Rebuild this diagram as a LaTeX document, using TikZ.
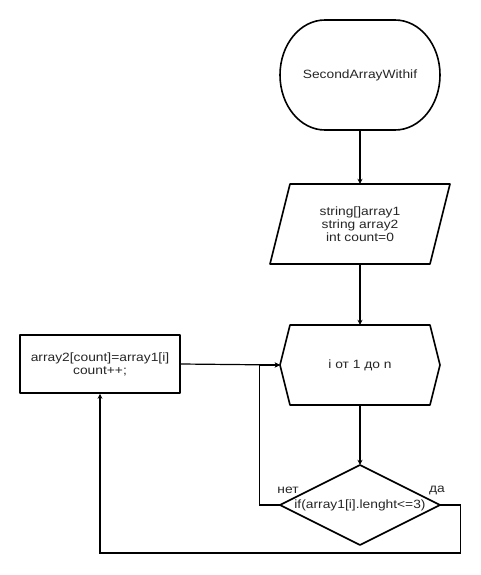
\documentclass[tikz,border=0pt]{standalone}
\usepackage{fontspec}
\setmainfont{Liberation Sans}[FakeStretch=1.15]
\usetikzlibrary{arrows.meta}
\begin{document}
\begin{tikzpicture}[x=1pt,y=-1pt,
  outline/.style={draw, line width=1.6pt, line join=round},
  anchorbox/.style={minimum width=160pt, minimum height=80pt, inner sep=0pt, align=center, text=black!85, font=\fontsize{12}{13}\selectfont},
  conn/.style={draw, line width=1.2pt, -{Stealth[length=5pt,width=5pt]}},
  lbl/.style={font=\fontsize{12}{13}\selectfont, text=black!85, inner sep=0pt}
]
\useasboundingbox (0,0) rectangle (480,575);
% terminal
\draw[outline] (325,20) -- (395,20) arc[start angle=-90, end angle=90, x radius=45, y radius=55]
  -- (325,130) arc[start angle=90, end angle=270, x radius=45, y radius=55] -- cycle;
\node[anchorbox, minimum height=110pt] (start) at (360,75) {SecondArrayWithif};
% input parallelogram
\draw[outline] (290,184) -- (450,184) -- (430,264) -- (270,264) -- cycle;
\node[anchorbox] (inp) at (360,224) {string[]array1\\string array2\\int count=0};
% loop hexagon
\draw[outline] (290,325) -- (430,325) -- (440,365) -- (430,405) -- (290,405) -- (280,365) -- cycle;
\node[anchorbox] (loop) at (360,365) {i от 1 до n};
% condition diamond
\draw[outline] (360,465) -- (440,505) -- (360,545) -- (280,505) -- cycle;
\node[anchorbox] (cond) at (360,505) {if(array1[i].lenght<=3)};
% action box
\node[outline, anchorbox, minimum height=58pt] (act) at (100,364) {array2[count]=array1[i]\\count++;};
% connectors
\draw[conn] (start.south) -- (inp.north);
\draw[conn] (inp.south) -- (loop.north);
\draw[conn] (loop.south) -- (cond.north);
\draw[conn] (act.east) -- (loop.west);
\draw[conn] (cond.west) -- ++(-20,0) |- (loop.west);
\draw[conn] (cond.east) -- ++(20,0) -- ++(0,48) -| (act.south);
% labels
\node[lbl] (no) at (288,490) {нет};
\node[lbl] (yes) at (437,490) {да};
\end{tikzpicture}
\end{document}
